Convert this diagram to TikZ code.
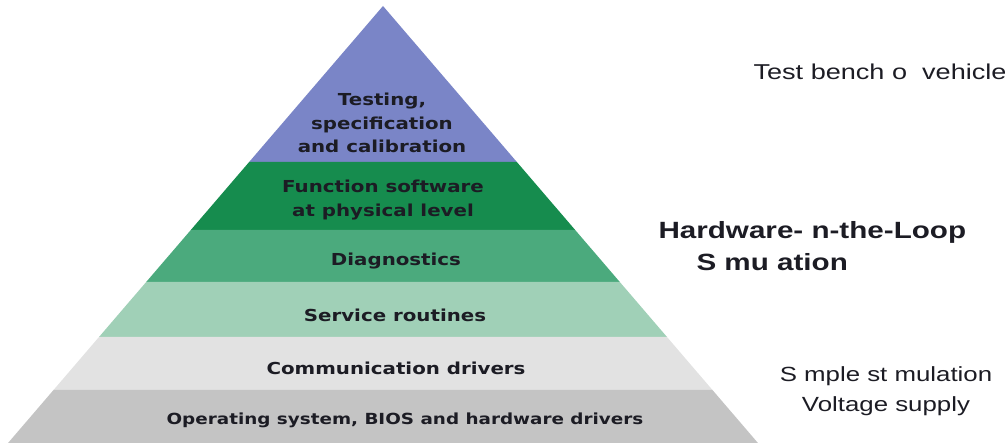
\documentclass[tikz,border=0pt]{standalone}
\usepackage{fontspec}
\setmainfont{DejaVu Sans}
\newfontfamily\layerfont{DejaVu Sans}[FakeStretch=1.2]
\newfontfamily\arialfont{Liberation Sans}[FakeStretch=1.26]
\definecolor{topblue}{HTML}{7A85C7}
\definecolor{darkgreen}{HTML}{168C4E}
\definecolor{midgreen}{HTML}{4BAA7D}
\definecolor{lightgreen}{HTML}{A0D0B7}
\definecolor{lightgray}{HTML}{E2E2E2}
\definecolor{midgray}{HTML}{C4C4C4}
\definecolor{ink}{HTML}{1C1C24}

\begin{document}
\begin{tikzpicture}[
  x=1pt, y=-1pt,
  layer/.style={font=\layerfont\bfseries\fontsize{16.5}{23.5}\selectfont, text=ink, align=center},
  side/.style={font=\arialfont\fontsize{20.5}{30}\selectfont, text=ink, align=center},
  sidebold/.style={font=\arialfont\bfseries\fontsize{23.5}{32}\selectfont, text=ink, align=left}
]
  \useasboundingbox (0,0) rectangle (1005,446);

  % pyramid bands (top y, bottom y, colour)
  \foreach \yt/\yb/\col in {6/162/topblue, 162/230/darkgreen, 230/282/midgreen,
                            282/337/lightgreen, 337/390/lightgray, 390/443/midgray}
    \fill[\col] ({383-0.858*(\yt-6)},\yt) -- ({383+0.858*(\yt-6)},\yt)
      -- ({383+0.858*(\yb-6)},\yb) -- ({383-0.858*(\yb-6)},\yb) -- cycle;

  % layer labels
  \node[layer] (testing) at (382,123) {Testing,\\specification\\and calibration};
  \node[layer] (function) at (383,200) {Function software\\at physical level};
  \node[layer] (diag) at (396,261) {Diagnostics};
  \node[layer] (service) at (395,315) {Service routines};
  \node[layer] (comm) at (396,368) {Communication drivers};
  \node[layer, font=\layerfont\bfseries\fontsize{15.3}{20}\selectfont] (os) at (405,420)
    {Operating system, BIOS and hardware drivers};

  % side labels
  \node[side, anchor=west] (bench) at (750,72) {\fontsize{21.5}{30}\selectfont Test bench o\ \ vehicle};
  \node[sidebold, anchor=west] (hil) at (655,246) {Hardware-\ n-the-Loop\\\hspace*{38pt}S mu\ ation};
  \node[side] (simple) at (886,391) {S mple st mulation\\Voltage supply};
\end{tikzpicture}
\end{document}
